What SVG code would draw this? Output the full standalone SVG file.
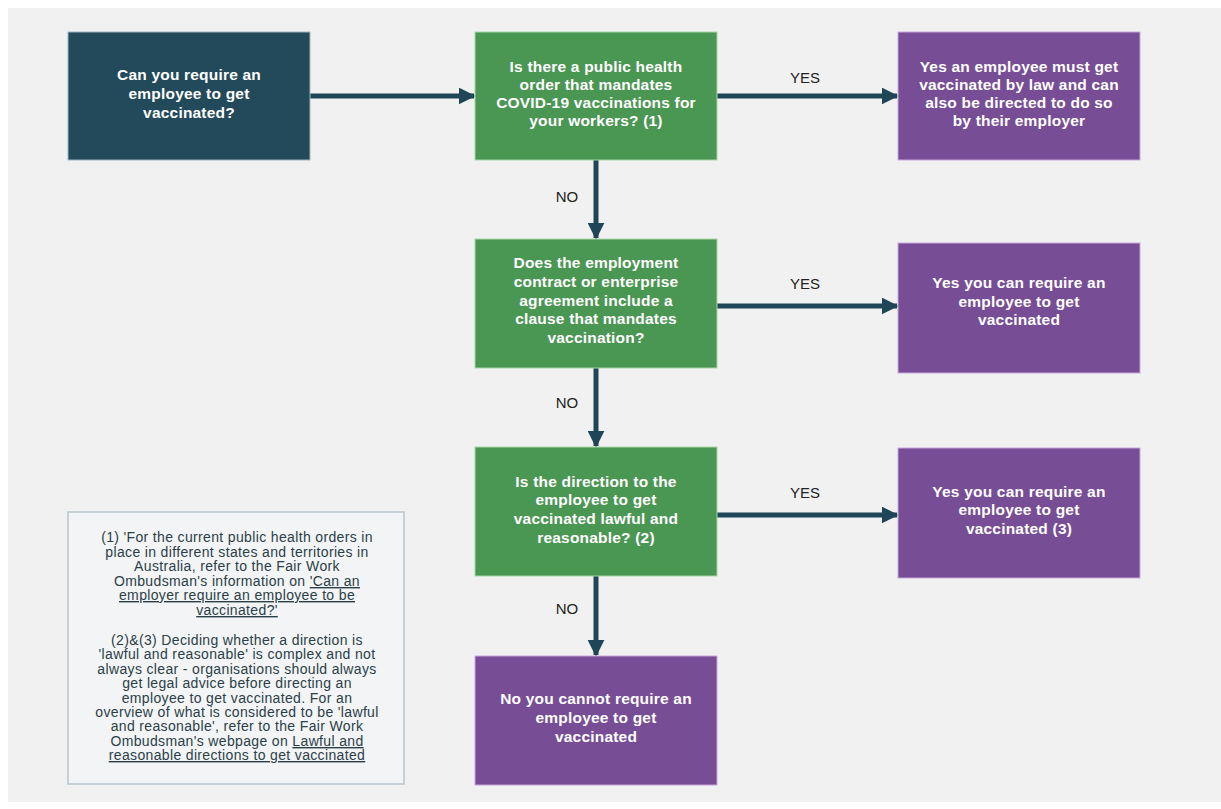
<svg xmlns="http://www.w3.org/2000/svg" width="1221" height="809" viewBox="0 0 1221 809">
<defs>
<style>
.bg{fill:#f1f1f1}
.navy{fill:#234a5a;stroke:#9fb6c2;stroke-width:1}
.green{fill:#4a9653;stroke:#a9d5a8;stroke-width:1}
.purple{fill:#774d96;stroke:#c9a9dd;stroke-width:1}
.nt{font-family:"Liberation Sans",Arial,sans-serif;font-weight:bold;font-size:15.5px;letter-spacing:0.2px;fill:#ffffff;text-anchor:middle}
.lbl{font-family:"Liberation Sans",Arial,sans-serif;font-size:15px;fill:#222222;text-anchor:middle}
.note{fill:#f3f4f5;stroke:#b9c5cc;stroke-width:1.5}
.nx{font-family:"Liberation Sans",Arial,sans-serif;font-size:14px;letter-spacing:0.35px;fill:#2b3f48;text-anchor:middle}
.u{text-decoration:underline}
.conn{stroke:#1f4656;stroke-width:5;fill:none}
</style>
<marker id="ah" viewBox="0 0 10 10" refX="9" refY="5" markerWidth="3.4" markerHeight="3.4" markerUnits="strokeWidth" orient="auto">
<path d="M0,0 L10,5 L0,10 z" fill="#1f4656"/>
</marker>
</defs>
<rect x="0" y="0" width="1221" height="809" fill="#ffffff"/>
<rect class="bg" x="8" y="8" width="1213" height="794"/>

<g id="connectors">
<line class="conn" x1="310" y1="96" x2="474" y2="96" marker-end="url(#ah)"/>
<line class="conn" x1="717" y1="96" x2="897" y2="96" marker-end="url(#ah)"/>
<line class="conn" x1="596" y1="160" x2="596" y2="238" marker-end="url(#ah)"/>
<line class="conn" x1="717" y1="306" x2="897" y2="306" marker-end="url(#ah)"/>
<line class="conn" x1="596" y1="368" x2="596" y2="446" marker-end="url(#ah)"/>
<line class="conn" x1="717" y1="515" x2="897" y2="515" marker-end="url(#ah)"/>
<line class="conn" x1="596" y1="576" x2="596" y2="655" marker-end="url(#ah)"/>
<text class="lbl" x="805" y="83">YES</text>
<text class="lbl" x="567" y="202">NO</text>
<text class="lbl" x="805" y="289">YES</text>
<text class="lbl" x="567" y="408">NO</text>
<text class="lbl" x="805" y="498">YES</text>
<text class="lbl" x="567" y="614">NO</text>
</g>

<g id="start">
<rect class="navy" x="68" y="32" width="242" height="128"/>
<text class="nt" x="189" y="80">Can you require an</text>
<text class="nt" x="189" y="99">employee to get</text>
<text class="nt" x="189" y="118">vaccinated?</text>
</g>

<g id="q1">
<rect class="green" x="475" y="32" width="242" height="128"/>
<text class="nt" x="596" y="72">Is there a public health</text>
<text class="nt" x="596" y="90">order that mandates</text>
<text class="nt" x="596" y="108">COVID-19 vaccinations for</text>
<text class="nt" x="596" y="126">your workers? (1)</text>
</g>

<g id="r1">
<rect class="purple" x="898" y="32" width="242" height="128"/>
<text class="nt" x="1019" y="72">Yes an employee must get</text>
<text class="nt" x="1019" y="90">vaccinated by law and can</text>
<text class="nt" x="1019" y="108">also be directed to do so</text>
<text class="nt" x="1019" y="126">by their employer</text>
</g>

<g id="q2">
<rect class="green" x="475" y="239" width="242" height="129"/>
<text class="nt" x="596" y="268">Does the employment</text>
<text class="nt" x="596" y="287">contract or enterprise</text>
<text class="nt" x="596" y="306">agreement include a</text>
<text class="nt" x="596" y="324">clause that mandates</text>
<text class="nt" x="596" y="343">vaccination?</text>
</g>

<g id="r2">
<rect class="purple" x="898" y="243" width="242" height="130"/>
<text class="nt" x="1019" y="288">Yes you can require an</text>
<text class="nt" x="1019" y="307">employee to get</text>
<text class="nt" x="1019" y="325">vaccinated</text>
</g>

<g id="q3">
<rect class="green" x="475" y="447" width="242" height="129"/>
<text class="nt" x="596" y="487">Is the direction to the</text>
<text class="nt" x="596" y="505">employee to get</text>
<text class="nt" x="596" y="524">vaccinated lawful and</text>
<text class="nt" x="596" y="543">reasonable? (2)</text>
</g>

<g id="r3">
<rect class="purple" x="898" y="448" width="242" height="130"/>
<text class="nt" x="1019" y="497">Yes you can require an</text>
<text class="nt" x="1019" y="515">employee to get</text>
<text class="nt" x="1019" y="534">vaccinated (3)</text>
</g>

<g id="r4">
<rect class="purple" x="475" y="656" width="242" height="129"/>
<text class="nt" x="596" y="704">No you cannot require an</text>
<text class="nt" x="596" y="723">employee to get</text>
<text class="nt" x="596" y="742">vaccinated</text>
</g>

<g id="notes">
<rect class="note" x="68" y="512" width="336" height="272"/>
<text class="nx" x="237" y="542">(1) 'For the current public health orders in</text>
<text class="nx" x="237" y="557">place in different states and territories in</text>
<text class="nx" x="237" y="571">Australia, refer to the Fair Work</text>
<text class="nx" x="237" y="586">Ombudsman's information on <tspan class="u">'Can an</tspan></text>
<text class="nx u" x="237" y="600">employer require an employee to be</text>
<text class="nx u" x="237" y="615">vaccinated?'</text>
<text class="nx" x="237" y="645">(2)&amp;(3) Deciding whether a direction is</text>
<text class="nx" x="237" y="659">'lawful and reasonable' is complex and not</text>
<text class="nx" x="237" y="674">always clear - organisations should always</text>
<text class="nx" x="237" y="688">get legal advice before directing an</text>
<text class="nx" x="237" y="703">employee to get vaccinated. For an</text>
<text class="nx" x="237" y="717">overview of what is considered to be 'lawful</text>
<text class="nx" x="237" y="731">and reasonable', refer to the Fair Work</text>
<text class="nx" x="237" y="746">Ombudsman's webpage on <tspan class="u">Lawful and</tspan></text>
<text class="nx u" x="237" y="760">reasonable directions to get vaccinated</text>
</g>
</svg>
